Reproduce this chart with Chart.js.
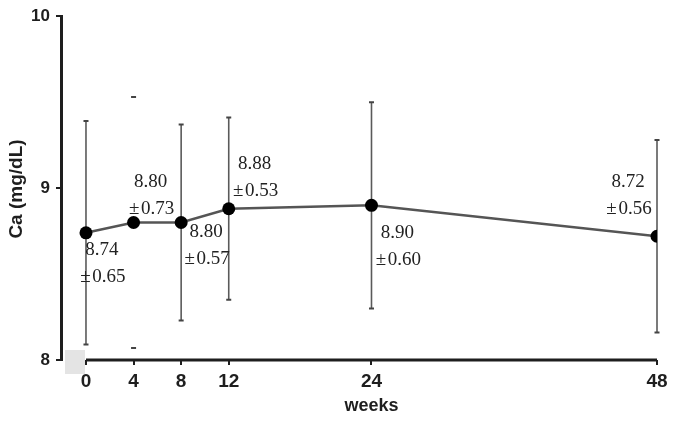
<!DOCTYPE html>
<html>
<head>
<meta charset="utf-8">
<script src="https://cdn.jsdelivr.net/npm/chart.js@4.4.1/dist/chart.umd.min.js"></script>
<style>
  html, body { margin: 0; padding: 0; background: #fff; }
  canvas { display: block; }
</style>
</head>
<body>
<canvas id="grafico" width="678" height="421"></canvas>
<script>
// datos
const weeks = [0, 4, 8, 12, 24, 48];
const caMean = [8.74, 8.80, 8.80, 8.88, 8.90, 8.72];
const caSd = [0.65, 0.73, 0.57, 0.53, 0.60, 0.56];
const xTicks = [0, 4, 8, 12, 24, 48];
const yTicks = [8, 9, 10];

// desplazamiento de cada etiqueta respecto al punto (px)
const labelOffsets = [
  { dx: 16, dy: 17 },
  { dx: 17, dy: -40 },
  { dx: 25, dy: 10 },
  { dx: 26, dy: -45 },
  { dx: 26, dy: 28 },
  { dx: -29, dy: -54 }
];
const capOnly = [1]; // en el original la barra de la semana 4 solo muestra los extremos

const ink = "#1e1e1e";
const sans = "'Liberation Sans', Arial, sans-serif";

// barras de error + ejes dibujados a mano
const extras = {
  id: "extras",
  beforeDatasetsDraw(chart) {
    const { ctx, scales: { x, y } } = chart;
    ctx.save();
    // mancha gris del original
    ctx.fillStyle = "#e4e4e4";
    ctx.fillRect(65, 350, 20, 24);
    // eje x solo desde 0 hasta 48
    ctx.strokeStyle = ink;
    ctx.lineWidth = 3;
    ctx.beginPath();
    ctx.moveTo(x.getPixelForValue(xTicks[0]), y.bottom);
    ctx.lineTo(x.getPixelForValue(xTicks[xTicks.length - 1]), y.bottom);
    ctx.stroke();

    weeks.forEach((w, i) => {
      const px = x.getPixelForValue(w);
      const top = y.getPixelForValue(caMean[i] + caSd[i]);
      const bot = y.getPixelForValue(caMean[i] - caSd[i]);
      if (!capOnly.includes(i)) {
        ctx.strokeStyle = "#5a5a5a";
        ctx.lineWidth = 1.6;
        ctx.beginPath();
        ctx.moveTo(px, top);
        ctx.lineTo(px, bot);
        ctx.stroke();
      }
      ctx.strokeStyle = "#444";
      ctx.lineWidth = 2;
      ctx.beginPath();
      ctx.moveTo(px - 2.5, top); ctx.lineTo(px + 2.5, top);
      ctx.moveTo(px - 2.5, bot); ctx.lineTo(px + 2.5, bot);
      ctx.stroke();
    });
    ctx.restore();
  },
  afterDatasetsDraw(chart) {
    const { ctx, scales: { x, y } } = chart;
    const meta = chart.getDatasetMeta(0);
    ctx.save();
    ctx.fillStyle = "#222";
    ctx.font = "19px 'Liberation Serif', 'Times New Roman', serif";
    ctx.textAlign = "center";
    ctx.textBaseline = "middle";
    meta.data.forEach((pt, i) => {
      const o = labelOffsets[i];
      ctx.fillText(caMean[i].toFixed(2), pt.x + o.dx, pt.y + o.dy);
      ctx.fillText("\u00b1\u200a" + caSd[i].toFixed(2), pt.x + o.dx + 1, pt.y + o.dy + 27);
    });

    // títulos de los ejes
    ctx.fillStyle = ink;
    ctx.font = "bold 18px " + sans;
    ctx.fillText("weeks", x.getPixelForValue(24), 406);
    ctx.font = "bold 19px " + sans;
    ctx.translate(17, 189);
    ctx.rotate(-Math.PI / 2);
    ctx.fillText("Ca (mg/dL)", 0, 0);
    ctx.restore();
  }
};

const ctx = document.getElementById("grafico").getContext("2d");

new Chart(ctx, {
  type: "line",
  data: {
    datasets: [{
      data: weeks.map((w, i) => ({ x: w, y: caMean[i] })),
      borderColor: "#555",
      borderWidth: 2.5,
      pointRadius: 6.5,
      pointBackgroundColor: "#000",
      pointBorderColor: "#000",
      pointBorderWidth: 0,
      tension: 0
    }]
  },
  options: {
    responsive: false,
    animation: false,
    devicePixelRatio: 1,
    layout: { padding: { left: 0, right: 21, top: 15, bottom: 0 } },
    plugins: { legend: { display: false }, tooltip: { enabled: false } },
    scales: {
      x: {
        type: "linear",
        min: -2.1,
        max: 48,
        afterBuildTicks: s => { s.ticks = xTicks.map(v => ({ value: v })); },
        afterFit: s => { s.height = 61; },
        grid: { display: true, drawOnChartArea: false, tickLength: 5, color: ink, lineWidth: 2 },
        border: { display: false },
        ticks: { color: ink, font: { family: sans, size: 19, weight: "bold" }, padding: 5, maxRotation: 0 }
      },
      y: {
        min: 8,
        max: 10,
        afterBuildTicks: s => { s.ticks = yTicks.map(v => ({ value: v })); },
        afterFit: s => { s.width = 61; },
        grid: { display: true, drawOnChartArea: false, tickLength: 5, color: ink, lineWidth: 2 },
        border: { display: true, color: ink, width: 3 },
        ticks: { color: ink, font: { family: sans, size: 17, weight: "bold" }, padding: 6 }
      }
    }
  },
  plugins: [extras]
});
</script>
</body>
</html>
